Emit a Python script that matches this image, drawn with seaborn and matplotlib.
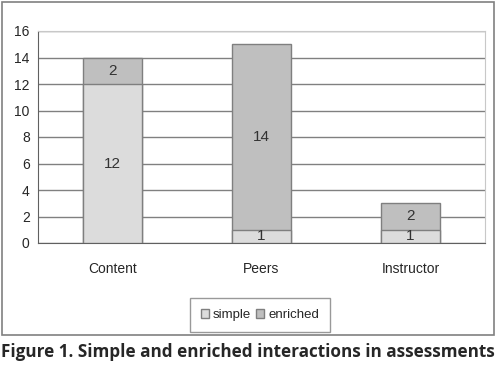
import numpy as np
import pandas as pd
import matplotlib
matplotlib.use('Agg')
import matplotlib.pyplot as plt
import seaborn as sns
from matplotlib.patches import Rectangle, Patch

# Data
categories = ['Content', 'Peers', 'Instructor']
simple = [12, 1, 1]
enriched = [2, 14, 2]

sns.set_style('white')
plt.rcParams['font.family'] = ['Liberation Sans', 'DejaVu Sans']

df = pd.DataFrame({'category': categories, 'simple': simple, 'enriched': enriched})
df['total'] = df['simple'] + df['enriched']

c_simple = '#dcdcdc'
c_enriched = '#bfbfbf'
c_edge = '#7f7f7f'

fig = plt.figure(figsize=(4.96, 3.67), dpi=100)
ax = fig.add_axes([38 / 496, 1 - 243 / 367, 447 / 496, 212 / 367])

# Outer frame
fig.patches.append(Rectangle((2 / 496, 1 - 335 / 367), 492 / 496, 333 / 367,
    transform=fig.transFigure, fill=False, edgecolor='#808080', linewidth=1.2))

# Stacked bars: totals first, simple on top of them
sns.barplot(ax=ax, data=df, x='category', y='total', color=c_enriched,
    width=0.4, edgecolor=c_edge, linewidth=1, saturation=1, zorder=3)
sns.barplot(ax=ax, data=df, x='category', y='simple', color=c_simple,
    width=0.4, edgecolor=c_edge, linewidth=1, saturation=1, zorder=4)

for i, (s, e) in enumerate(zip(simple, enriched)):
    ax.text(i, s / 2, str(s), ha='center', va='center', fontsize=11, color='#333333', zorder=5)
    ax.text(i, s + e / 2, str(e), ha='center', va='center', fontsize=11, color='#333333', zorder=5)

ax.set_xlim(-0.5, 2.5)
ax.set_ylim(0, 16)
ax.set_yticks(range(0, 17, 2))
ax.yaxis.grid(True, color='#808080', linewidth=1)
ax.set_axisbelow(True)
ax.set_xlabel('')
ax.set_ylabel('')

ax.set_xticks([-0.5, 0.5, 1.5, 2.5], minor=True)
ax.tick_params(axis='x', which='major', length=0, pad=14, labelsize=10)
ax.tick_params(axis='x', which='minor', length=4, color='#606060', direction='out')
ax.tick_params(axis='y', length=4, color='#606060', direction='out', labelsize=10, pad=2)

for side in ['left', 'bottom']:
    ax.spines[side].set_color('#606060')
for side in ['top', 'right']:
    ax.spines[side].set_color('#c8c8c8')

handles = [Patch(facecolor=c_simple, edgecolor=c_edge, label='simple'),
           Patch(facecolor=c_enriched, edgecolor=c_edge, label='enriched')]
leg = fig.legend(handles=handles, loc='center', bbox_to_anchor=(260 / 496, 1 - 315 / 367),
    ncol=2, frameon=True, fontsize=9.5, handlelength=0.6, handleheight=0.6,
    handletextpad=0.3, columnspacing=0.4, fancybox=False, borderpad=0.8)
leg.get_frame().set_edgecolor('#808080')

fig.text(0.5, 1 - 352 / 367, 'Figure 1. Simple and enriched interactions in assessments',
    ha='center', va='center', fontsize=12.3, fontweight='bold', family=['Open Sans', 'DejaVu Sans'])

plt.savefig('out.png', dpi=100)
